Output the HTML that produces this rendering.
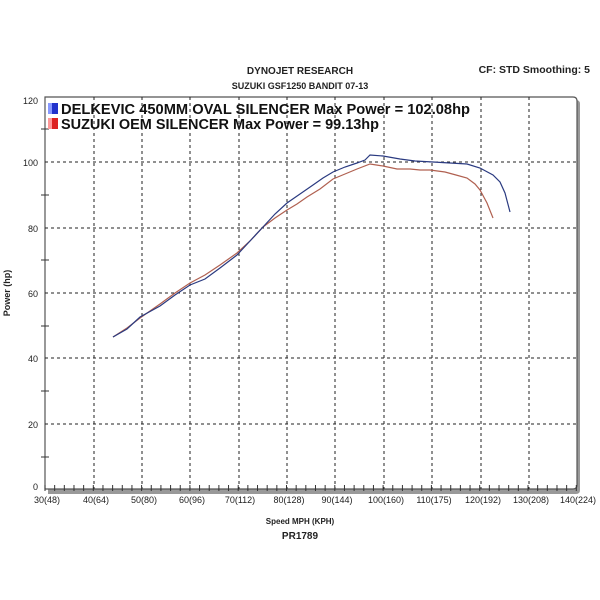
<!DOCTYPE html>
<html><head><meta charset="utf-8"><style>
body{margin:0;background:#fff;}
svg{display:block;font-family:"Liberation Sans",Arial,sans-serif;}
</style></head><body>
<svg width="600" height="600" viewBox="0 0 600 600" xmlns="http://www.w3.org/2000/svg">
<rect width="600" height="600" fill="#fff"/>
<text x="300" y="74" text-anchor="middle" font-size="10" font-weight="bold" fill="#222">DYNOJET RESEARCH</text>
<text x="300" y="89" text-anchor="middle" font-size="9" font-weight="bold" fill="#222">SUZUKI GSF1250 BANDIT 07-13</text>
<text x="590" y="73" text-anchor="end" font-size="10.5" font-weight="bold" fill="#222">CF: STD  Smoothing: 5</text>
<path d="M48 100 H576 Q580 100 580 104 V490 Q580 494 576 494 H48 Z" fill="#999"/>
<path d="M45 97 H573 Q577 97 577 101 V485 Q577 489 573 489 H45 Z" fill="#fff" stroke="#555" stroke-width="1.2"/>
<g stroke="#222" stroke-width="1" stroke-dasharray="3,3">
<line x1="94" y1="97" x2="94" y2="489"/><line x1="142" y1="97" x2="142" y2="489"/>
<line x1="190" y1="97" x2="190" y2="489"/><line x1="239" y1="97" x2="239" y2="489"/>
<line x1="287" y1="97" x2="287" y2="489"/><line x1="335" y1="97" x2="335" y2="489"/>
<line x1="384" y1="97" x2="384" y2="489"/><line x1="432" y1="97" x2="432" y2="489"/>
<line x1="481" y1="97" x2="481" y2="489"/><line x1="529" y1="97" x2="529" y2="489"/>
<line x1="45" y1="162" x2="577" y2="162"/><line x1="45" y1="228" x2="577" y2="228"/>
<line x1="45" y1="293" x2="577" y2="293"/><line x1="45" y1="358" x2="577" y2="358"/>
<line x1="45" y1="424" x2="577" y2="424"/>
</g>
<g stroke="#333" stroke-width="1">
<line x1="41" y1="129" x2="49" y2="129"/><line x1="41" y1="195" x2="49" y2="195"/>
<line x1="41" y1="260" x2="49" y2="260"/><line x1="41" y1="326" x2="49" y2="326"/>
<line x1="41" y1="391" x2="49" y2="391"/><line x1="41" y1="457" x2="49" y2="457"/>
</g>
<g id="xt" stroke="#333" stroke-width="1"></g>
<g font-size="9" fill="#222" text-anchor="end">
<text x="38" y="104">120</text><text x="38" y="166">100</text><text x="38" y="232">80</text>
<text x="38" y="297">60</text><text x="38" y="362">40</text><text x="38" y="428">20</text><text x="38" y="490">0</text>
</g>
<g font-size="9" fill="#222" text-anchor="middle">
<text x="47" y="503">30(48)</text><text x="96" y="503">40(64)</text><text x="144" y="503">50(80)</text>
<text x="192" y="503">60(96)</text><text x="240" y="503">70(112)</text><text x="289" y="503">80(128)</text>
<text x="337" y="503">90(144)</text><text x="386" y="503">100(160)</text><text x="434" y="503">110(175)</text>
<text x="483" y="503">120(192)</text><text x="531" y="503">130(208)</text><text x="578" y="503">140(224)</text>
</g>
<text x="300" y="524" text-anchor="middle" font-size="8" font-weight="bold" fill="#222">Speed MPH (KPH)</text>
<text x="300" y="539" text-anchor="middle" font-size="10" font-weight="bold" fill="#222">PR1789</text>
<text transform="translate(10,293) rotate(-90)" text-anchor="middle" font-size="9" font-weight="bold" fill="#222">Power (hp)</text>
<rect x="48" y="103" width="10" height="11" fill="#2233cc"/><rect x="48" y="103" width="4" height="11" fill="#8899ff"/>
<rect x="48" y="118" width="10" height="11" fill="#dd2222"/><rect x="48" y="118" width="4" height="11" fill="#ff9999"/>
<text x="61" y="114" font-size="14.5" font-weight="bold" fill="#111" textLength="409" lengthAdjust="spacingAndGlyphs">DELKEVIC 450MM OVAL SILENCER Max Power  = 102.08hp</text>
<text x="61" y="129" font-size="14.5" font-weight="bold" fill="#111" textLength="318" lengthAdjust="spacingAndGlyphs">SUZUKI OEM SILENCER Max Power = 99.13hp</text>
<polyline fill="none" stroke="#b06050" stroke-width="1.2" points="113,337 127,328 140,318 160,304 175,293 190,283 205,275 220,265 237,253 250,241 263,227 275,218 287,210 297,204 307,197 320,189 333,179 345,174 357,169 370,164 383,166 397,169 410,169 420,170 430,170 445,172 456,175 467,178 475,184 480,190 487,203 493,218"/>
<polyline fill="none" stroke="#2a3a80" stroke-width="1.2" points="113,337 127,329 140,317 160,306 175,295 190,285 205,279 220,268 237,255 250,241 263,227 275,214 287,203 300,194 313,185 323,178 333,172 345,167 357,163 365,160 370,155 383,156 400,159 415,161 433,162 450,163 467,164 480,168 493,175 500,182 505,193 510,212"/>
</svg>
<script>
var g=document.getElementById('xt'),s='';
for(var x=45;x<=577;x+=9.66){s+='<line x1="'+x+'" y1="485" x2="'+x+'" y2="491"/>';}
g.innerHTML=s;
</script>
</body></html>
